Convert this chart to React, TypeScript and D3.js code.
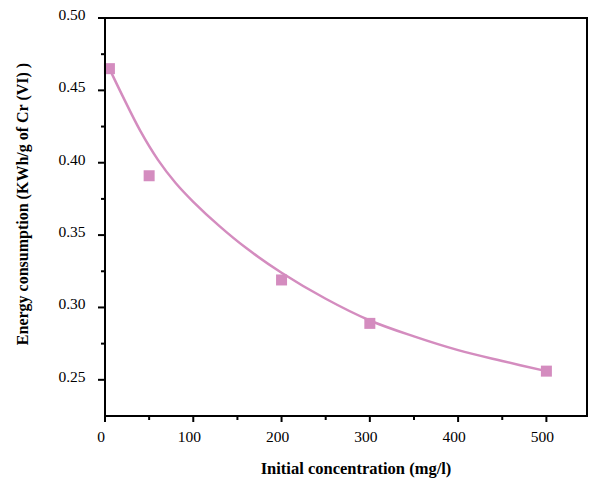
import React from "react";
import * as d3 from "d3";

// Measured points: initial Cr(VI) concentration vs. energy consumption
const concentration = [5, 50, 200, 300, 500];
const energy = [0.465, 0.391, 0.319, 0.289, 0.256];

// Fitted trend curve samples
const fitX = [5, 20, 40, 60, 80, 100, 130, 160, 200, 250, 300, 350, 400, 450, 500];
const fitY = [
  0.465, 0.446, 0.422, 0.402, 0.386, 0.373, 0.356, 0.341, 0.324, 0.306, 0.291,
  0.28, 0.2705, 0.263, 0.256,
];

const xTicks = [0, 100, 200, 300, 400, 500];
const xMinorTicks = [50, 150, 250, 350, 450];
const yTicks = [0.25, 0.3, 0.35, 0.4, 0.45, 0.5];
const yMinorTicks = [0.275, 0.325, 0.375, 0.425, 0.475];

const W = 593;
const H = 481;
const left = 105;
const right = 587;
const top = 18;
const bottom = 416;

const COLOR = "#d48cbf";
const FONT = "'Liberation Serif', 'Times New Roman', serif";

export default function App() {
  const x = d3.scaleLinear().domain([0, 546]).range([left, right]);
  const y = d3.scaleLinear().domain([0.225, 0.5]).range([bottom, top]);

  const line = d3
    .line<number>()
    .x((_, i) => x(fitX[i]))
    .y((d) => y(d))
    .curve(d3.curveCatmullRom);

  const fitPath = line(fitY) || "";
  const ms = 11;

  return (
    <svg
      width={W}
      height={H}
      style={{ position: "absolute", left: 0, top: 0, background: "#fff" }}
      fontFamily={FONT}
    >
      <rect x={0} y={0} width={W} height={H} fill="#fff" />

      {/* fitted curve */}
      <path d={fitPath} fill="none" stroke={COLOR} strokeWidth={2.5} />

      {/* data markers */}
      {concentration.map((c, i) => (
        <rect
          key={i}
          x={x(c) - ms / 2}
          y={y(energy[i]) - ms / 2}
          width={ms}
          height={ms}
          fill={COLOR}
        />
      ))}

      {/* frame */}
      <rect
        x={left}
        y={top}
        width={right - left}
        height={bottom - top}
        fill="none"
        stroke="#000"
        strokeWidth={2}
      />

      {/* x axis ticks */}
      {xTicks.map((t) => (
        <g key={"xt" + t}>
          <line x1={x(t)} x2={x(t)} y1={bottom} y2={bottom + 6} stroke="#000" strokeWidth={2} />
          <text x={x(t) - 4} y={442} textAnchor="middle" fontSize={15.5} fill="#000">
            {t}
          </text>
        </g>
      ))}
      {xMinorTicks.map((t) => (
        <line key={"xm" + t} x1={x(t)} x2={x(t)} y1={bottom} y2={bottom + 4} stroke="#000" strokeWidth={2} />
      ))}

      {/* y axis ticks */}
      {yTicks.map((t) => (
        <g key={"yt" + t}>
          <line x1={left - 7} x2={left} y1={y(t)} y2={y(t)} stroke="#000" strokeWidth={2} />
          <text x={85.5} y={y(t) + 2} textAnchor="end" fontSize={15.5} fill="#000">
            {d3.format(".2f")(t)}
          </text>
        </g>
      ))}
      {yMinorTicks.map((t) => (
        <line key={"ym" + t} x1={left - 4} x2={left} y1={y(t)} y2={y(t)} stroke="#000" strokeWidth={2} />
      ))}

      {/* axis titles */}
      <text x={356} y={474} textAnchor="middle" fontSize={16.5} fontWeight="bold" fill="#000">
        Initial concentration (mg/l)
      </text>
      <text
        transform="translate(28, 204) rotate(-90)"
        textAnchor="middle"
        fontSize={16}
        fontWeight="bold"
        fill="#000"
      >
        Energy consumption (KWh/g of Cr (VI) )
      </text>
    </svg>
  );
}
